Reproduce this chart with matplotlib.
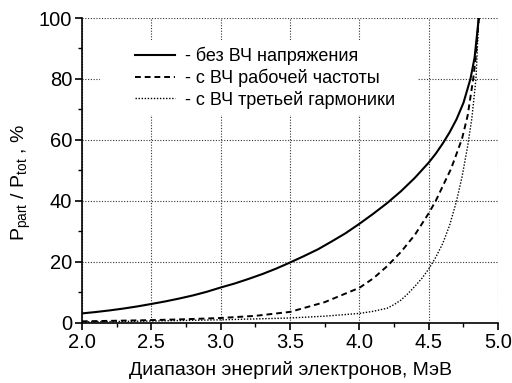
import numpy as np
import matplotlib.pyplot as plt
from matplotlib.patches import Rectangle

plt.rcParams['font.family'] = ['Liberation Sans', 'DejaVu Sans']
plt.rcParams['mathtext.fontset'] = 'custom'
plt.rcParams['mathtext.rm'] = 'Liberation Sans'

# energy (MeV) and P_part/P_tot (%) for the three cases
e_no_rf = [2.0, 2.1, 2.2, 2.3, 2.4, 2.5, 2.6, 2.7, 2.8, 2.9, 3.0, 3.1, 3.2, 3.3, 3.4, 3.5,
           3.6, 3.7, 3.8, 3.9, 4.0, 4.1, 4.2, 4.3, 4.4, 4.5, 4.55, 4.6, 4.65, 4.7, 4.75,
           4.8, 4.83, 4.86]
p_no_rf = [3.1, 3.56, 4.09, 4.7, 5.4, 6.2, 7.03, 7.97, 9.0, 10.2, 11.6, 12.9, 14.4, 16.0,
           17.8, 19.8, 21.9, 24.1, 26.7, 29.4, 32.5, 35.8, 39.3, 43.2, 47.6, 52.6, 55.5,
           58.8, 62.5, 66.8, 72.2, 80.0, 87.0, 100.0]

e_rf1 = [2.0, 2.25, 2.5, 2.75, 3.0, 3.25, 3.5, 3.75, 4.0, 4.1, 4.2, 4.3, 4.4, 4.5, 4.55,
         4.6, 4.66, 4.71, 4.74, 4.78, 4.82, 4.84, 4.86]
p_rf1 = [0.5, 0.7, 0.9, 1.2, 1.6, 2.3, 3.6, 6.8, 11.5, 14.6, 18.6, 23.3, 28.9, 36.0, 40.0,
         44.8, 50.5, 56.7, 60.5, 68.0, 80.0, 88.0, 100.0]

e_rf3 = [2.0, 2.5, 3.0, 3.5, 3.75, 4.0, 4.1, 4.2, 4.25, 4.3, 4.35, 4.4, 4.45, 4.5, 4.55,
         4.6, 4.65, 4.7, 4.74, 4.78, 4.81, 4.84, 4.86]
p_rf3 = [0.3, 0.6, 1.0, 1.6, 2.2, 3.1, 3.8, 4.8, 6.0, 7.5, 9.6, 12.0, 14.6, 17.7, 21.5,
         26.0, 32.0, 40.0, 48.0, 58.0, 67.0, 80.0, 100.0]

labels = ['- без ВЧ напряжения', '- с ВЧ рабочей частоты', '- с ВЧ третьей гармоники']

fig = plt.figure(figsize=(5.12, 3.83), dpi=100)
ax = fig.add_axes([0.160, 0.157, 0.813, 0.796])
ax.set_axisbelow(True)

ax.plot(e_no_rf, p_no_rf, color='black', lw=1.5, label=labels[0], zorder=2)
ax.plot(e_rf1, p_rf1, color='black', lw=1.4, dashes=(3, 2), label=labels[1], zorder=2)
ax.plot(e_rf3, p_rf3, color='black', lw=1.0, dashes=(1, 1.2), label=labels[2], zorder=2)

# white patch under the legend hides the grid there
ax.add_patch(Rectangle((0.043, 0.682), 0.765, 0.246, transform=ax.transAxes,
                       fc='white', ec='none', zorder=1))

ax.set_xlim(2.0, 5.0)
ax.set_ylim(0, 100)
ax.set_xticks(np.arange(2.0, 5.01, 0.5))
ax.set_xticks(np.arange(2.0, 5.01, 0.25), minor=True)
ax.set_yticks(np.arange(0, 101, 20))
ax.set_yticks(np.arange(0, 101, 10), minor=True)
ax.xaxis.set_major_formatter(plt.FormatStrFormatter('%.1f'))

ax.grid(True, which='major', color='#333333', ls=(0, (1, 1.5)), lw=0.8)
for s in ['top', 'right']:
    ax.spines[s].set_visible(False)
for s in ['left', 'bottom']:
    ax.spines[s].set_linewidth(1.2)

ax.tick_params(which='major', direction='out', length=5, width=1.2, labelsize=14.5, pad=2)
ax.tick_params(which='minor', direction='out', length=3, width=1.0)

ax.set_xlabel('Диапазон энергий электронов, МэВ', fontsize=14, labelpad=7)
ax.set_ylabel(r'P$_{\rm part}$ / P$_{\rm tot}$ , %', fontsize=14)
ax.yaxis.set_label_coords(-0.118, 0.46)

ax.legend(loc='upper left', bbox_to_anchor=(0.127, 0.905), frameon=False,
          fontsize=13, borderpad=0, borderaxespad=0, handlelength=2.2,
          handletextpad=0.6, labelspacing=0.2)

fig.savefig('out.png', dpi=100)
